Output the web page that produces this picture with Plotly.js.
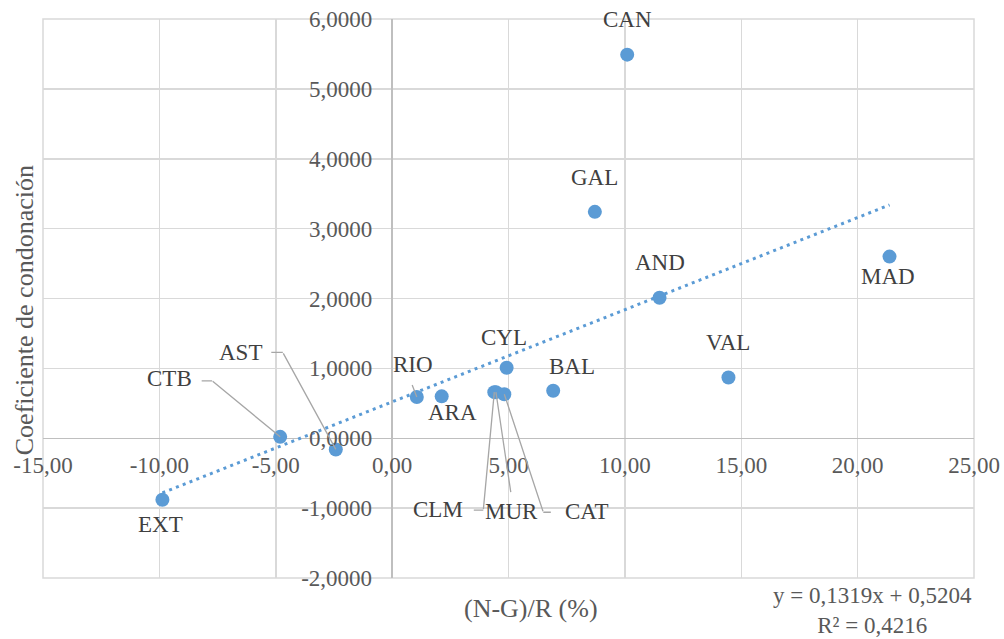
<!DOCTYPE html>
<html>
<head>
<meta charset="utf-8">
<script src="https://cdn.plot.ly/plotly-3.0.1.min.js"></script>
<style>html,body{margin:0;padding:0;background:#fff;}#chart{width:1004px;height:639px;}</style>
</head>
<body>
<div id="chart"></div>
<script>
// ---- data ----
const regions = ['CAN','GAL','AND','MAD','VAL','BAL','CYL','CLM','MUR','CAT','RIO','ARA','CTB','AST','EXT'];
const xValues = [10.10, 8.71, 11.49, 21.37, 14.45, 6.92, 4.92, 4.39, 4.46, 4.82, 1.06, 2.13, -4.81, -2.42, -9.87];
const yValues = [5.49, 3.24, 2.01, 2.60, 0.87, 0.68, 1.01, 0.66, 0.66, 0.63, 0.59, 0.60, 0.02, -0.16, -0.88];
const trendSlope = 0.1319;
const trendIntercept = 0.5204;
const trendR2 = '0,4216';
const xTickVals = [-15, -10, -5, 0, 5, 10, 15, 20, 25];
const xTickText = ['-15,00','-10,00','-5,00','0,00','5,00','10,00','15,00','20,00','25,00'];
const yTickVals = [-2, -1, 0, 1, 2, 3, 4, 5, 6];
const yTickText = ['-2,0000','-1,0000','0,0000','1,0000','2,0000','3,0000','4,0000','5,0000','6,0000'];
const xTitle = '(N-G)/R (%)';
const yTitle = 'Coeficiente de condonación';

// ---- label placement (pixel offsets from the point; y down) ----
const labelOffsets = {
  CAN:[0,-35], GAL:[0,-34], AND:[0,-35], MAD:[-2,20], VAL:[0,-35], BAL:[19,-24],
  CYL:[-3,-30], CLM:[-56,117], MUR:[16,119], CAT:[82,117], RIO:[-4,-33], ARA:[11,16],
  CTB:[-111,-58], AST:[-95,-97], EXT:[-2,25]
};
// leader lines: elbow (where the line to the point starts) and optional horizontal stub end
const leaders = {
  CTB: {elbow:[-68,-56], stub:[-79,-56]},
  AST: {elbow:[-53,-97], stub:[-65,-97]},
  CLM: {elbow:[-11,118], stub:[-21,118]},
  MUR: {elbow:[15,101], stub:null},
  CAT: {elbow:[39,118], stub:[47,118]},
  RIO: {elbow:[-5,-13], stub:null}
};

const blue = '#5B9BD5';
const leaderColor = '#A6A6A6';
const serif = 'Liberation Serif, Times New Roman, serif';

const xMin = Math.min(...xValues), xMax = Math.max(...xValues);
const trendX = [xMin, xMax];
const trendY = trendX.map(v => trendSlope * v + trendIntercept);

const points = {
  x: xValues, y: yValues, mode: 'markers', type: 'scatter',
  marker: {color: blue, size: 14, line: {width: 0}},
  hoverinfo: 'x+y', showlegend: false
};
const trend = {
  x: trendX, y: trendY, mode: 'lines', type: 'scatter',
  line: {color: blue, width: 3, dash: '3px,4.3px'},
  hoverinfo: 'skip', showlegend: false
};

const annotations = [];
regions.forEach((r, i) => {
  const off = labelOffsets[r];
  annotations.push({
    x: xValues[i], y: yValues[i], xref: 'x', yref: 'y',
    text: r, showarrow: false, xshift: off[0], yshift: -off[1],
    xanchor: 'center', yanchor: 'middle',
    font: {family: serif, size: 23, color: '#404040'}
  });
  const L = leaders[r];
  if (L) {
    // main leader from elbow to the point
    annotations.push({
      x: xValues[i], y: yValues[i], xref: 'x', yref: 'y',
      text: ' ', font: {size: 1}, borderpad: 0,
      showarrow: true, ax: L.elbow[0], ay: L.elbow[1],
      arrowhead: 0, arrowwidth: 1.3, arrowcolor: leaderColor, standoff: 0, startstandoff: 0
    });
    if (L.stub) {
      // horizontal stub next to the label
      annotations.push({
        x: xValues[i], y: yValues[i], xref: 'x', yref: 'y',
        xshift: L.elbow[0], yshift: -L.elbow[1],
        text: ' ', font: {size: 1}, borderpad: 0,
        showarrow: true, ax: L.stub[0] - L.elbow[0], ay: 0.001,
        arrowhead: 0, arrowwidth: 1.3, arrowcolor: leaderColor, standoff: 0, startstandoff: 0
      });
    }
  }
});
annotations.push({
  xref: 'paper', yref: 'paper', x: 0.524, y: -0.054, xanchor: 'center', yanchor: 'middle',
  text: xTitle, showarrow: false, font: {family: serif, size: 26, color: '#595959'}
});
annotations.push({
  xref: 'paper', yref: 'paper', x: -0.0204, y: 0.479, xanchor: 'center', yanchor: 'middle',
  text: yTitle, textangle: -90, showarrow: false, font: {family: serif, size: 26, color: '#595959'}
});
annotations.push({
  xref: 'paper', yref: 'paper', x: 1.0, y: -0.059, xanchor: 'right', yanchor: 'middle', align: 'center',
  text: 'y = ' + String(trendSlope).replace('.', ',') + 'x + ' + String(trendIntercept).replace('.', ',') + '<br>R² = ' + trendR2,
  showarrow: false, font: {family: serif, size: 23, color: '#595959'}
});

const layout = {
  width: 1004, height: 639,
  margin: {l: 43, r: 30, t: 19, b: 61},
  paper_bgcolor: '#fff', plot_bgcolor: '#fff',
  showlegend: false,
  xaxis: {
    range: [-15, 25], tickvals: xTickVals, ticktext: xTickText,
    showgrid: true, gridcolor: '#D9D9D9', gridwidth: 1.5,
    zeroline: true, zerolinecolor: '#BFBFBF', zerolinewidth: 1.5,
    showline: false, ticks: '', anchor: 'free', position: 0.25,
    ticklabelstandoff: 11,
    tickfont: {family: serif, size: 23, color: '#595959'}
  },
  yaxis: {
    range: [-2, 6], tickvals: yTickVals, ticktext: yTickText,
    showgrid: true, gridcolor: '#D9D9D9', gridwidth: 1.5,
    zeroline: true, zerolinecolor: '#BFBFBF', zerolinewidth: 1.5,
    showline: false, ticks: '', anchor: 'free', position: 0.375,
    ticklabelstandoff: 20,
    tickfont: {family: serif, size: 23, color: '#595959'}
  },
  shapes: [{type: 'rect', xref: 'paper', yref: 'paper', x0: 0, x1: 1, y0: 0, y1: 1,
            line: {color: '#D9D9D9', width: 1.5}, layer: 'below'}],
  annotations: annotations
};

Plotly.newPlot('chart', [trend, points], layout, {displayModeBar: false, staticPlot: true});
</script>
</body>
</html>
